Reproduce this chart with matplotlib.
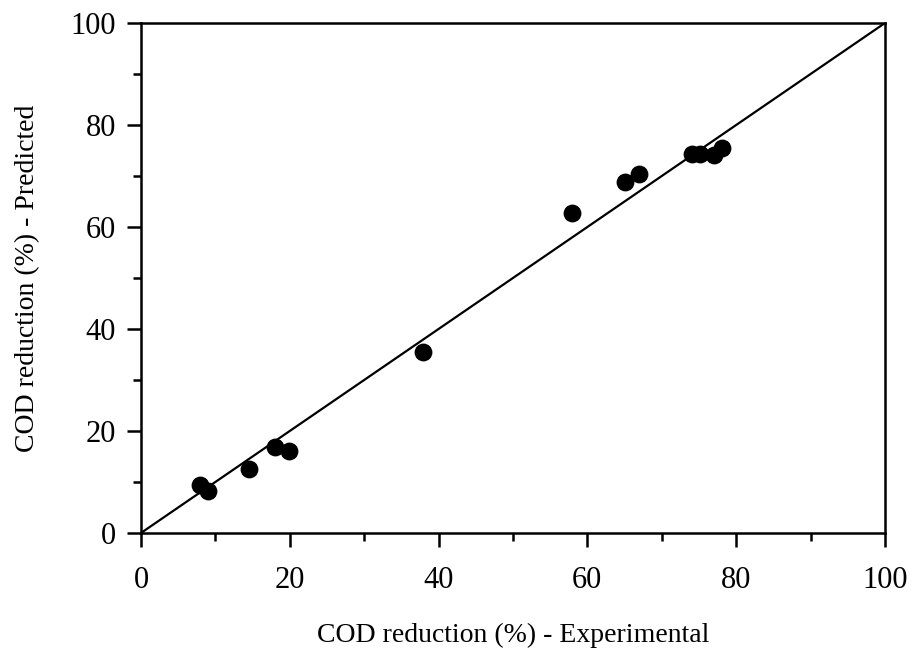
import matplotlib
matplotlib.use("Agg")
import matplotlib.pyplot as plt
from matplotlib.ticker import MultipleLocator

# experimental vs predicted COD reduction (%)
experimental = [7.9, 9.0, 14.5, 18.0, 19.9, 37.9, 58.0, 65.0, 67.0, 74.1, 75.1, 77.0, 78.1]
predicted = [9.4, 8.3, 12.5, 16.8, 16.1, 35.4, 62.7, 68.8, 70.4, 74.3, 74.3, 74.2, 75.4]

# 1:1 line
line_x = [0, 100]
line_y = [0, 100]

plt.rcParams['font.family'] = ['Liberation Serif', 'DejaVu Serif']

fig = plt.figure(figsize=(9.13, 6.48), dpi=100)
ax = fig.add_axes([0.1544, 0.1775, 0.8149, 0.787])

ax.plot(line_x, line_y, color='black', lw=1.6)
ax.scatter(experimental, predicted, s=140, color='black', zorder=3)

ax.set_xlim(0, 100)
ax.set_ylim(0, 100)
ax.xaxis.set_major_locator(MultipleLocator(20))
ax.xaxis.set_minor_locator(MultipleLocator(10))
ax.yaxis.set_major_locator(MultipleLocator(20))
ax.yaxis.set_minor_locator(MultipleLocator(10))

ax.tick_params(which='major', direction='out', length=10, width=1.8, labelsize=22)
ax.tick_params(which='minor', direction='out', length=6, width=1.8)
ax.tick_params(axis='x', which='major', pad=14)
ax.tick_params(axis='y', which='major', pad=8)

for sp in ax.spines.values():
    sp.set_linewidth(1.8)

ax.set_xlabel('COD reduction (%) - Experimental', fontsize=20, labelpad=20)
ax.set_ylabel('COD reduction (%) - Predicted', fontsize=20, labelpad=22)

fig.savefig('out.png', dpi=100)
